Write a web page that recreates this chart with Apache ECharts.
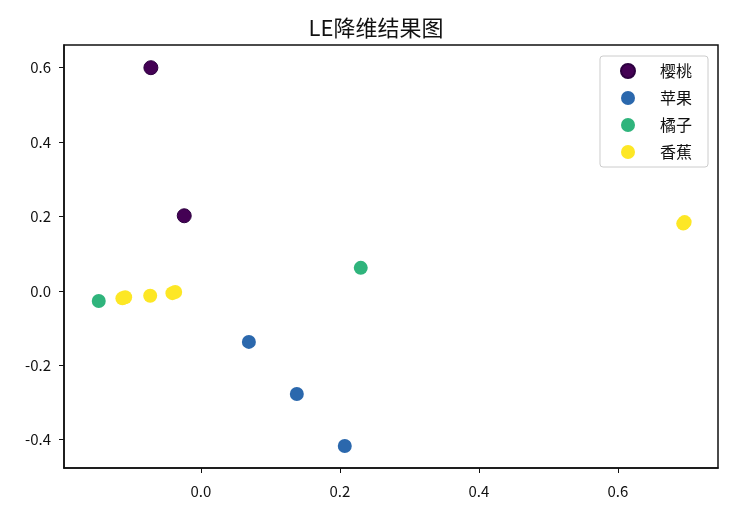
<!DOCTYPE html>
<html><head><meta charset="utf-8">
<script src="https://cdn.jsdelivr.net/npm/echarts@6/dist/echarts.min.js"></script>
<style>html,body{margin:0;padding:0;background:#fff}#c{width:752px;height:514px}</style>
</head><body><div id="c"></div>
<script>
const title = 'LE降维结果图';
const seriesNames = ['樱桃', '苹果', '橘子', '香蕉'];
const cherry = [[-0.072, 0.600], [-0.024, 0.202]];
const apple = [[0.069, -0.137], [0.138, -0.277], [0.207, -0.417]];
const orange = [[-0.147, -0.027], [0.230, 0.062]];
const banana = [[-0.113, -0.020], [-0.109, -0.017], [-0.073, -0.013], [-0.041, -0.006], [-0.037, -0.003], [0.694, 0.181], [0.696, 0.185]];
const xTicks = [0.0, 0.2, 0.4, 0.6];
const yTicks = [-0.4, -0.2, 0.0, 0.2, 0.4, 0.6];
const colors = ['#440154', '#2b68ad', '#2fb47c', '#fde725'];

const chart = echarts.init(document.getElementById('c'));
const font = '"Noto Sans CJK SC", sans-serif';
const datasets = [cherry, apple, orange, banana];
chart.setOption({
  animation: false,
  backgroundColor: '#fff',
  title: { text: title, left: 'center', top: 12, textStyle: { fontFamily: font, fontSize: 22, fontWeight: 'normal', color: '#111' } },
  grid: { left: 64, right: 34, top: 45, bottom: 46, show: true, borderColor: '#111', borderWidth: 1.5, backgroundColor: '#fff' },
  legend: {
    orient: 'vertical', right: 44, top: 56, icon: 'circle', itemWidth: 14, itemHeight: 14, itemGap: 11,
    padding: [7, 16, 7, 20], borderColor: '#ccc', borderWidth: 1, borderRadius: 3, backgroundColor: '#fff',
    textStyle: { fontFamily: font, fontSize: 16, color: '#111', padding: [0, 0, 0, 20] },
    data: seriesNames
  },
  xAxis: {
    type: 'value', min: -0.197, max: 0.744,
    splitLine: { show: false },
    axisLine: { show: true, onZero: false, lineStyle: { color: '#111', width: 1.5 } },
    axisTick: { show: true, length: 5, customValues: xTicks, lineStyle: { color: '#111' } },
    axisLabel: { customValues: xTicks, margin: 16, fontFamily: font, fontSize: 15, color: '#111', formatter: v => v.toFixed(1) }
  },
  yAxis: {
    type: 'value', min: -0.476, max: 0.661,
    splitLine: { show: false },
    axisLine: { show: true, onZero: false, lineStyle: { color: '#111', width: 1.5 } },
    axisTick: { show: true, length: 5, customValues: yTicks, lineStyle: { color: '#111' } },
    axisLabel: { customValues: yTicks, margin: 13, fontFamily: font, fontSize: 15, color: '#111', formatter: v => v.toFixed(1) }
  },
  series: seriesNames.map((n, i) => ({
    name: n, type: 'scatter', data: datasets[i], symbolSize: 14,
    itemStyle: { color: colors[i], opacity: 1, borderColor: i === 0 ? '#2d0040' : colors[i], borderWidth: i === 0 ? 1 : 0 }
  }))
});
</script></body></html>
